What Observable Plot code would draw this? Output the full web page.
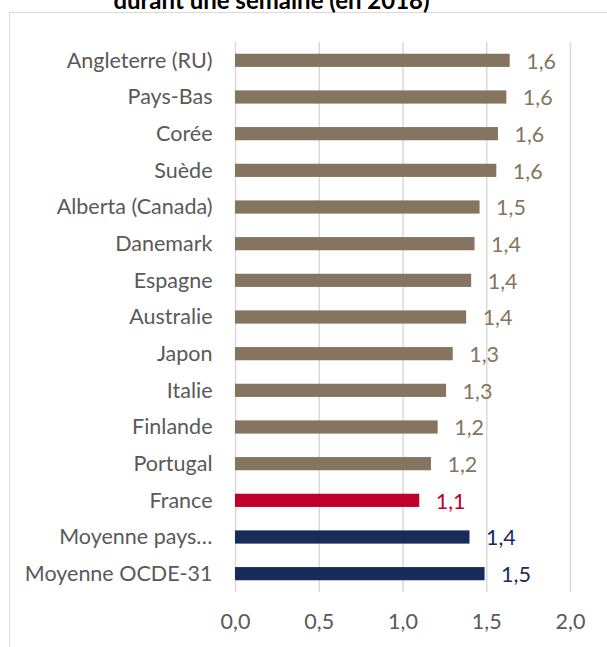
<!DOCTYPE html>
<html>
<head>
<meta charset="utf-8">
<script src="https://cdn.jsdelivr.net/npm/d3@7"></script>
<script src="https://cdn.jsdelivr.net/npm/@observablehq/plot@0.6"></script>
<style>
  html, body { margin: 0; padding: 0; background: #fff; }
  #wrap { position: relative; width: 607px; height: 647px; overflow: hidden; font-family: Lato, "Open Sans", sans-serif; }
  #frame { position: absolute; left: 9px; top: 12px; width: 700px; height: 700px; border: 1.5px solid #d9d9d9; box-sizing: border-box; }
  #title { position: absolute; left: 0; width: 543px; top: -12px; text-align: center; font-weight: bold; font-size: 24px; color: #000; line-height: 24px; white-space: nowrap; }
  #chart { position: absolute; left: 0; top: 0; }
</style>
</head>
<body>
<div id="wrap">
  <div id="frame"></div>
  <div id="title">durant une semaine (en 2018)</div>
  <div id="chart"></div>
</div>
<script>
const categories = ["Angleterre (RU)", "Pays-Bas", "Corée", "Suède", "Alberta (Canada)", "Danemark", "Espagne", "Australie", "Japon", "Italie", "Finlande", "Portugal", "France", "Moyenne pays…", "Moyenne OCDE-31"];
const values = [1.64, 1.62, 1.57, 1.56, 1.46, 1.43, 1.41, 1.38, 1.30, 1.26, 1.21, 1.17, 1.10, 1.40, 1.49];
const groups = ["pays", "pays", "pays", "pays", "pays", "pays", "pays", "pays", "pays", "pays", "pays", "pays", "France", "moyenne", "moyenne"];
const xTicks = [0, 0.5, 1, 1.5, 2];
const groupNames = ["pays", "France", "moyenne"];
const groupColors = ["#857560", "#C0002A", "#172C5A"];

const data = categories.map((c, i) => ({ cat: c, value: values[i], group: groups[i] }));
const fmt = v => d3.format(".1f")(v).replace(".", ",");

const chart = Plot.plot({
  width: 607,
  height: 647,
  marginTop: 42,
  marginBottom: 55,
  marginLeft: 235,
  marginRight: 37,
  style: { fontFamily: "Lato, 'Open Sans', sans-serif", fontSize: "21.5px", color: "#595959", background: "transparent" },
  x: { domain: [0, 2], ticks: xTicks, tickFormat: fmt, tickSize: 0, tickPadding: 21, label: null },
  y: { domain: categories, paddingInner: 0.64, paddingOuter: 0.32, round: false, tickSize: 0, tickPadding: 23, label: null },
  color: { domain: groupNames, range: groupColors },
  marks: [
    Plot.ruleX(xTicks, { stroke: "#d9d9d9", strokeWidth: 1.5 }),
    Plot.barX(data, { x: "value", y: "cat", fill: "group" }),
    Plot.text(data, { x: "value", y: "cat", text: d => fmt(d.value), fill: "group", textAnchor: "start", dx: 16, dy: 1, fontSize: 21.5 })
  ]
});
document.getElementById("chart").appendChild(chart);
</script>
</body>
</html>
